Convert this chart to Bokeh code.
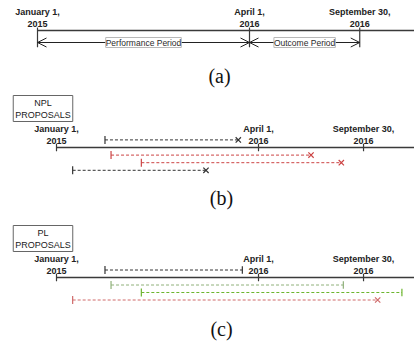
import math
from bokeh.plotting import figure
from bokeh.layouts import column
from bokeh.models import ColumnDataSource, Range1d, Label, LabelSet, Arrow, OpenHead
from bokeh.embed import file_html
from bokeh.resources import INLINE
from bokeh.core.properties import value

# ---- data (schematic timeline: Jan 1 2015 = 0, Apr 1 2016 = 100) ----
tick_labels = ["January 1,\n2015", "April 1,\n2016", "September 30,\n2016"]
tick_pos = [0, 100, 152]

period_names = ["Performance Period", "Outcome Period"]
period_start = [0, 100]
period_end = [100, 152]

npl_start = [24, 27, 42, 8]
npl_end = [90, 126, 141, 74]
npl_lane = [-1, 1, 2, 3]
npl_color = ["#333333", "#cc4444", "#cc4444", "#333333"]
npl_end_mark = ["x", "x", "x", "x"]

pl_start = [24, 27, 42, 8]
pl_end = [92, 142, 171, 159]
pl_lane = [-1, 1, 2, 3]
pl_color = ["#333333", "#8fb07a", "#6cb52e", "#d06a6a"]
pl_end_mark = ["dash", "dash", "dash", "x"]

FIG_W = 414
FONT = "Liberation Sans"


def base_fig(h, x0px, spx, line_local, upx):
    xr = Range1d((0 - x0px) / spx, (FIG_W - x0px) / spx)
    yr = Range1d((h - line_local) / upx, -line_local / upx)
    p = figure(width=FIG_W, height=h, x_range=xr, y_range=yr,
               output_backend="svg", toolbar_location=None,
               x_axis_type=None, y_axis_type=None, min_border=0)
    p.grid.visible = False
    p.outline_line_color = None
    return p


def timeline(p, tick_top, tick_bot):
    p.segment(x0=[tick_pos[0]], y0=[0], x1=[p.x_range.end], y1=[0],
              line_color="#3a3a3a", line_width=1.3)
    p.segment(x0=tick_pos, x1=tick_pos, y0=[tick_top] * len(tick_pos),
              y1=[tick_bot] * len(tick_pos), line_color="#3a3a3a", line_width=1.2)
    p.text(x=tick_pos, y=[0] * len(tick_pos), text=tick_labels,
           text_align="center", text_baseline="bottom", y_offset=-2,
           text_font=value(FONT), text_font_style="bold",
           text_font_size="9px", text_color="#222222", text_line_height=1.15)


def caption(p, txt, x, y):
    p.add_layout(Label(x=x, y=y, x_units="screen", y_units="screen", text=txt,
                       text_align="center", text_baseline="middle",
                       text_font="Liberation Serif", text_font_size="20px",
                       text_color="#111111"))


def boxlabel(p, txt, x, y):
    p.add_layout(Label(x=x, y=y, x_units="screen", y_units="screen", text=txt,
                       text_align="center", text_baseline="middle",
                       text_font=FONT, text_font_size="9px", text_color="#1a1a1a",
                       border_line_color="#666666", border_line_width=1,
                       background_fill_color="white", padding=2))


def proposals(p, s, e, lane, color, mark):
    src = ColumnDataSource(dict(s=s, e=e, lane=lane, color=color, mark=mark))
    p.segment(x0="s", y0="lane", x1="e", y1="lane", source=src,
              line_color="color", line_dash="3 2", line_width=1)
    p.scatter(x="s", y="lane", source=src, marker="dash", angle=math.pi / 2,
              size=8, line_color="color", line_width=1.2)
    p.scatter(x="e", y="lane", source=src, marker="mark", angle=math.pi / 2,
              size=7.5, line_color="color", line_width=1.2)


# ---- panel (a) ----
pa = base_fig(90, 37, 2.12, 30, 12)
timeline(pa, -0.25, 1.4)
asrc = ColumnDataSource(dict(x0=period_start, x1=period_end, y=[1, 1],
                             xm=[(a + b) / 2 for a, b in zip(period_start, period_end)],
                             name=period_names))
pa.add_layout(Arrow(start=OpenHead(size=9, line_width=1, line_color="#222222"),
                    end=OpenHead(size=9, line_width=1, line_color="#222222"),
                    x_start="x0", y_start="y", x_end="x1", y_end="y",
                    source=asrc, line_width=1, line_color="#222222"))
pa.add_layout(LabelSet(x="xm", y="y", text="name", source=asrc,
                       text_align="center", text_baseline="middle",
                       text_font=value(FONT), text_font_size="8.5px",
                       text_color="#2a2a2a", background_fill_color="white",
                       border_line_color="#b8b8b8"))
caption(pa, "(a)", 219, 15)

# ---- panel (b) ----
pb = base_fig(125, 56, 2.02, 57, 7.6)
timeline(pb, -0.5, 0.5)
proposals(pb, npl_start, npl_end, npl_lane, npl_color, npl_end_mark)
boxlabel(pb, "NPL\nPROPOSALS", 42.5, 107)
caption(pb, "(b)", 221, 18)

# ---- panel (c) ----
pc = base_fig(130, 56, 2.02, 62, 7.5)
timeline(pc, -0.5, 0.5)
proposals(pc, pl_start, pl_end, pl_lane, pl_color, pl_end_mark)
boxlabel(pc, "PL\nPROPOSALS", 42.5, 107)
caption(pc, "(c)", 221, 17)

layout = column(pa, pb, pc, spacing=0)
open("out.html", "w").write(file_html(layout, INLINE))
